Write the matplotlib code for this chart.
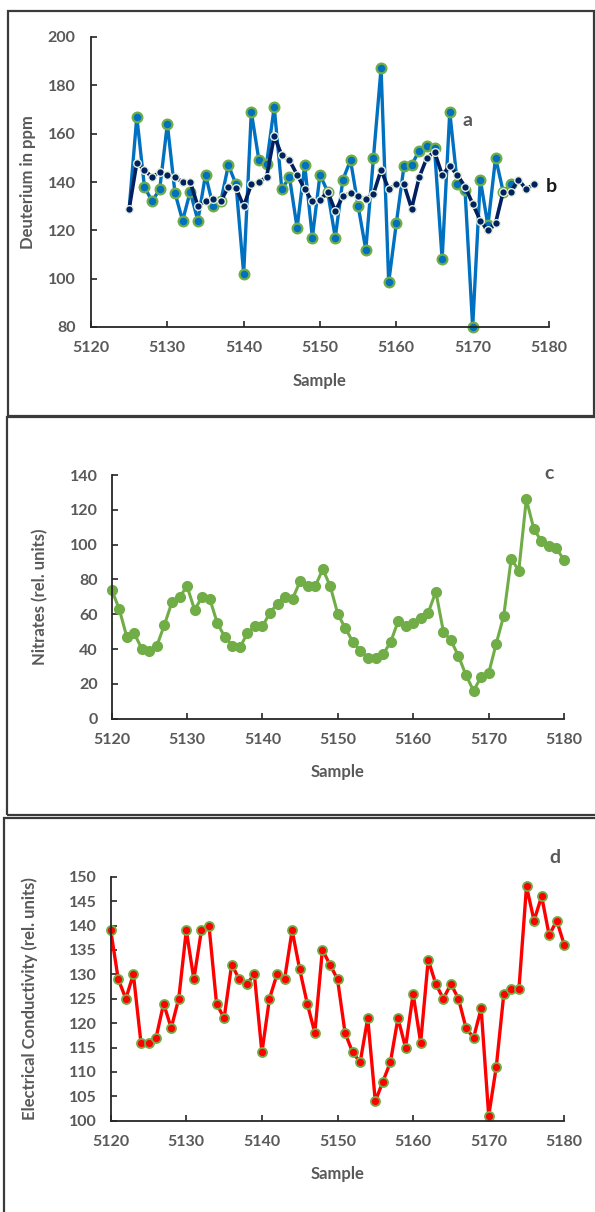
import matplotlib
matplotlib.use('Agg')
import matplotlib.pyplot as plt
from matplotlib.patches import Rectangle

# ---- data ----
# panel a / b : deuterium (ppm)
samples_a = list(range(5125, 5176))
deut_a = [129, 167, 138, 132, 137, 164, 135.5, 124, 136, 124,
          143, 130, 132, 147, 139, 102, 169, 149, 147.5, 171,
          137, 142, 121, 147, 117, 143, 136, 117, 141, 149,
          130, 112, 150, 187, 98.5, 123, 146.5, 147, 153, 155,
          154, 108, 169, 139, 136.5, 80, 141, 122, 150, 136,
          139]
samples_b = list(range(5125, 5179))
deut_b = [129, 148, 145, 142, 144, 143, 142, 140, 140, 130,
          132, 133, 132, 138, 137.5, 130, 139, 140, 142, 159,
          151, 149, 143, 137, 132, 132.5, 136, 128, 134, 135.5,
          134, 133, 135, 145, 137, 139, 139, 129, 142, 150,
          152.5, 143, 146.5, 143, 138, 131, 124, 120, 123, 136,
          136, 141, 137, 139]

# panel c : nitrates
samples_c = list(range(5120, 5181))
nitrates = [74, 63, 47, 49, 40, 39, 42, 54, 67, 70,
            76, 62.5, 70, 69, 55, 47, 42, 41, 49, 53,
            53, 61, 66, 70, 69, 79, 76, 76, 86, 76,
            60, 52, 44, 39, 35, 35, 37, 44, 56, 53,
            55, 58, 61, 73, 50, 45, 36, 25, 16, 24,
            26, 43, 59, 92, 85, 126, 109, 102, 99, 98,
            91]

# panel d : electrical conductivity
samples_d = list(range(5120, 5181))
conductivity = [139, 129, 125, 130, 116, 116, 117, 124, 119, 125,
                139, 129, 139, 140, 124, 121, 132, 129, 128, 130,
                114, 125, 130, 129, 139, 131, 124, 118, 135, 132,
                129, 118, 114, 112, 121, 104, 108, 112, 121, 115,
                126, 116, 133, 128, 125, 128, 125, 119, 117, 123,
                101, 111, 126, 127, 127, 148, 141, 146, 138, 141,
                136]

x_ticks = [5120, 5130, 5140, 5150, 5160, 5170, 5180]

plt.rcParams['font.family'] = ['Lato', 'DejaVu Sans']
GRAY = '#595959'

W, H = 595, 1212
fig = plt.figure(figsize=(W / 100, H / 100), dpi=100)


def make_axes(left, right, top, bottom):
    # pixel box -> figure fractions
    return fig.add_axes([left / W, 1 - bottom / H, (right - left) / W, (bottom - top) / H])


def style_axes(ax, ylabel, ylab_x, xlab_y, ypad):
    for s in ['top', 'right']:
        ax.spines[s].set_visible(False)
    for s in ['left', 'bottom']:
        ax.spines[s].set_linewidth(1.3)
        ax.spines[s].set_color('#262626')
    ax.tick_params(direction='in', length=4, width=1.2, color='#262626',
                   labelcolor=GRAY, labelsize=11.5)
    ax.tick_params(axis='x', pad=10)
    ax.tick_params(axis='y', pad=ypad)
    for lab in ax.get_xticklabels() + ax.get_yticklabels():
        lab.set_fontweight('bold')
    ax.set_xlabel('Sample', color=GRAY, fontsize=12, fontweight='bold')
    ax.set_ylabel(ylabel, color=GRAY, fontsize=12, fontweight='bold')
    ax.xaxis.set_label_coords(0.5, xlab_y)
    ax.yaxis.set_label_coords(ylab_x, 0.5)


# ---- panel a/b ----
ax1 = make_axes(91, 549, 37, 327)
ax1.plot(samples_a, deut_a, color='#0070C0', lw=2.4, marker='o', ms=7,
         mfc='#0070C0', mec='#70AD47', mew=1.6, zorder=2,
         markevery=list(range(1, len(samples_a))))
ax1.plot(samples_b, deut_b, color='#002060', lw=2.6, marker='o', ms=5.5,
         mfc='#002060', mec='#E2EFDA', mew=1.0, zorder=3)
ax1.set_xlim(5120, 5180)
ax1.set_ylim(80, 200)
ax1.set_xticks(x_ticks)
ax1.set_yticks([80, 100, 120, 140, 160, 180, 200])
for line in ax1.lines:
    line.set_clip_on(False)
style_axes(ax1, 'Deuterium in ppm', -0.12, -0.16, 11)
ax1.text(5169.3, 165.5, 'a', color=GRAY, fontsize=14, fontweight='bold',
         ha='center', va='center')
ax1.text(5180.3, 138.2, 'b', color='#1a1a1a', fontsize=14, fontweight='bold',
         ha='center', va='center', clip_on=False)

# ---- panel c ----
ax2 = make_axes(111.7, 564, 475, 718.7)
ax2.plot(samples_c, nitrates, color='#70AD47', lw=2.2, marker='o', ms=7,
         mfc='#70AD47', mec='#70AD47', clip_on=False)
ax2.set_xlim(5120, 5180)
ax2.set_ylim(0, 140)
ax2.set_xticks(x_ticks)
ax2.set_yticks(range(0, 141, 20))
style_axes(ax2, 'Nitrates (rel. units)', -0.141, -0.186, 10)
ax2.text(5178, 141, 'c', color=GRAY, fontsize=14, fontweight='bold',
         ha='center', va='center', clip_on=False)

# ---- panel d ----
ax3 = make_axes(110.7, 564.3, 876.7, 1120.7)
ax3.plot(samples_d, conductivity, color='#FF0000', lw=2.4, marker='o', ms=6.5,
         mfc='#FF0000', mec='#70AD47', mew=1.3, clip_on=False)
ax3.set_xlim(5120, 5180)
ax3.set_ylim(100, 150)
ax3.set_xticks(x_ticks)
ax3.set_yticks(range(100, 151, 5))
style_axes(ax3, 'Electrical Conductivity (rel. units)', -0.16, -0.186, 10)
ax3.text(5178.8, 154, 'd', color=GRAY, fontsize=14, fontweight='bold',
         ha='center', va='center', clip_on=False)

# ---- panel frames ----
frames = [(8, 11, 594, 416), (7, 417, 600, 815), (4, 818, 600, 1220)]
for x0, y0, x1, y1 in frames:
    fig.add_artist(Rectangle((x0 / W, 1 - y1 / H), (x1 - x0) / W, (y1 - y0) / H,
                             transform=fig.transFigure, fill=False,
                             edgecolor='#3a3a3a', lw=1.6))

fig.savefig('out.png', dpi=100)
